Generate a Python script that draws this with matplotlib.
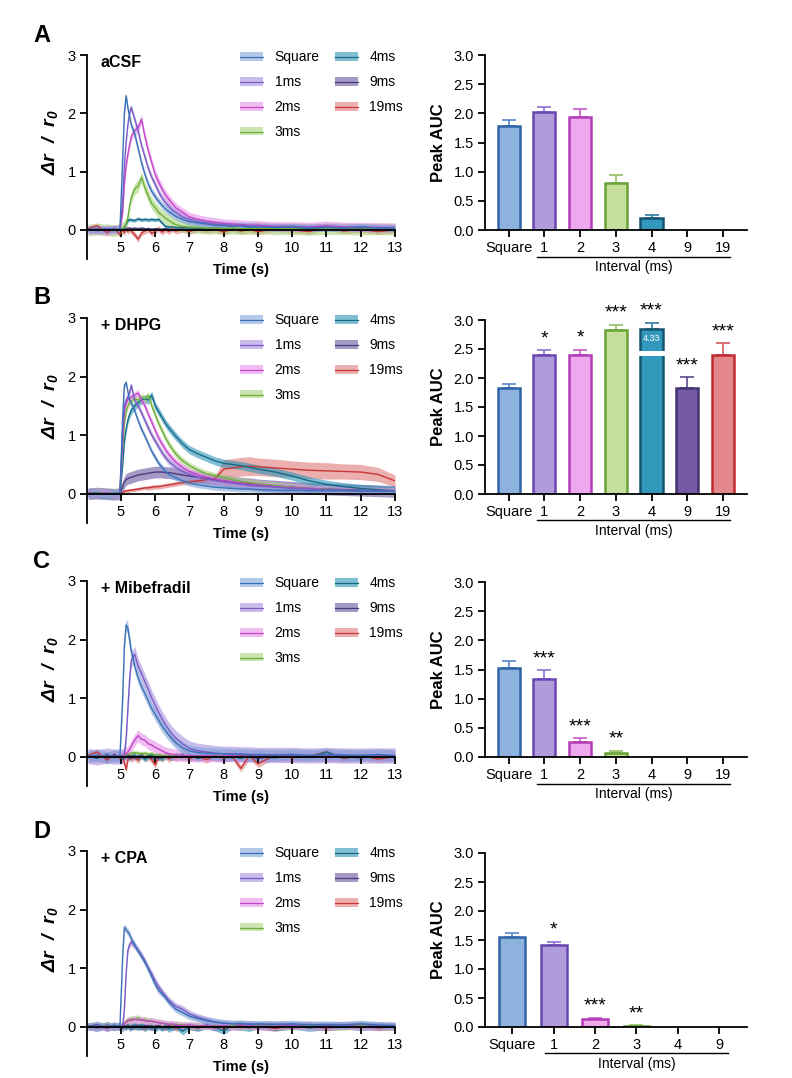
import numpy as np
import matplotlib
matplotlib.use("Agg")
import matplotlib.pyplot as plt
from matplotlib.patches import Patch
from matplotlib.lines import Line2D
from matplotlib.transforms import blended_transform_factory

plt.rcParams['font.family'] = ['Liberation Sans', 'DejaVu Sans']
plt.rcParams['mathtext.fontset'] = 'custom'
plt.rcParams['mathtext.rm'] = 'Liberation Sans:bold:italic'
plt.rcParams['mathtext.it'] = 'Liberation Sans:bold:italic'
plt.rcParams['mathtext.bf'] = 'Liberation Sans:bold:italic'

# ---------------- data ----------------
LABELS = ["Square", "1ms", "2ms", "3ms", "4ms", "9ms", "19ms"]
CONDITIONS = ["aCSF", "+ DHPG", "+ Mibefradil", "+ CPA"]
PANEL_LETTERS = ["A", "B", "C", "D"]

T = [4.04, 4.3, 4.6, 4.8, 4.97, 5.05, 5.1, 5.15, 5.2, 5.25, 5.3, 5.4, 5.5, 5.6,
     5.7, 5.8, 5.9, 6.0, 6.1, 6.2, 6.3, 6.4, 6.5, 6.6, 6.8, 7.0, 7.25, 7.5,
     7.75, 8.0, 8.25, 8.5, 8.75, 9.0, 9.5, 10.0, 10.5, 11.0, 11.5, 12.0, 12.5, 13.0]

A_traces = {
    "Square": [0.00, 0.02, -0.01, 0.02, 0.00, 1.20, 2.00, 2.30, 2.10, 1.95, 1.80, 1.65, 1.40, 1.15, 0.95, 0.78, 0.66, 0.57, 0.49, 0.42, 0.36, 0.31, 0.27, 0.23, 0.18, 0.14, 0.12, 0.10, 0.08, 0.07, 0.06, 0.07, 0.05, 0.05, 0.04, 0.05, 0.03, 0.04, 0.03, 0.05, 0.03, 0.03],
    "1ms": [0.01, -0.01, 0.02, 0.00, 0.01, 0.50, 1.10, 1.50, 1.80, 2.00, 2.10, 1.90, 1.70, 1.45, 1.25, 1.05, 0.90, 0.78, 0.65, 0.55, 0.47, 0.40, 0.34, 0.30, 0.22, 0.18, 0.14, 0.12, 0.10, 0.09, 0.08, 0.07, 0.07, 0.06, 0.05, 0.05, 0.04, 0.05, 0.04, 0.04, 0.04, 0.03],
    "2ms": [0.00, 0.01, -0.02, 0.01, 0.00, 0.30, 0.80, 1.10, 1.30, 1.45, 1.60, 1.70, 1.75, 1.90, 1.60, 1.35, 1.15, 0.95, 0.82, 0.70, 0.60, 0.52, 0.45, 0.38, 0.30, 0.22, 0.18, 0.15, 0.13, 0.11, 0.10, 0.09, 0.08, 0.08, 0.06, 0.06, 0.05, 0.07, 0.05, 0.05, 0.04, 0.04],
    "3ms": [0.00, 0.01, 0.00, -0.01, 0.00, 0.03, 0.06, 0.10, 0.20, 0.40, 0.55, 0.70, 0.75, 0.90, 0.72, 0.58, 0.45, 0.38, 0.30, 0.25, 0.20, 0.16, 0.12, 0.09, 0.06, 0.05, 0.04, 0.03, 0.03, 0.02, 0.03, 0.02, 0.02, 0.03, 0.02, 0.02, 0.01, 0.02, 0.02, 0.01, 0.02, 0.01],
    "4ms": [0.01, 0.00, 0.02, 0.00, 0.01, 0.02, 0.05, 0.10, 0.15, 0.18, 0.17, 0.16, 0.19, 0.17, 0.18, 0.17, 0.18, 0.17, 0.18, 0.12, 0.06, 0.05, 0.05, 0.04, 0.04, 0.03, 0.03, 0.02, 0.03, 0.02, 0.02, 0.02, 0.03, 0.02, 0.02, 0.01, 0.02, 0.02, 0.01, 0.02, 0.01, 0.01],
    "9ms": [0.00, -0.01, 0.01, 0.00, -0.01, 0.00, 0.01, 0.02, 0.03, 0.03, 0.02, 0.03, 0.02, 0.03, 0.02, 0.02, 0.01, 0.02, 0.01, 0.01, 0.02, 0.01, 0.00, 0.01, 0.01, 0.00, 0.01, 0.00, 0.01, 0.00, 0.01, 0.00, 0.01, 0.00, 0.01, 0.00, 0.01, 0.00, 0.01, 0.00, 0.01, 0.00],
    "19ms": [0.02, 0.07, -0.05, 0.03, -0.08, 0.00, -0.05, 0.02, -0.03, 0.01, -0.02, -0.08, -0.16, -0.05, -0.02, 0.01, -0.06, -0.02, 0.02, -0.04, 0.01, -0.03, 0.02, -0.02, 0.01, -0.03, 0.02, -0.01, 0.01, -0.04, 0.02, -0.02, 0.01, -0.03, 0.02, 0.00, -0.03, 0.06, -0.02, 0.01, -0.03, 0.00],
}
A_sem = {"Square": 0.06, "1ms": 0.06, "2ms": 0.08, "3ms": 0.10, "4ms": 0.03, "9ms": 0.02, "19ms": 0.05}

B_traces = {
    "Square": [0.00, 0.01, -0.01, 0.01, 0.00, 1.30, 1.85, 1.90, 1.75, 1.60, 1.55, 1.42, 1.25, 1.10, 0.98, 0.85, 0.72, 0.62, 0.52, 0.45, 0.38, 0.33, 0.30, 0.27, 0.22, 0.18, 0.15, 0.13, 0.11, 0.10, 0.09, 0.08, 0.08, 0.07, 0.06, 0.06, 0.05, 0.05, 0.05, 0.04, 0.04, 0.04],
    "1ms": [0.00, -0.01, 0.01, 0.00, 0.01, 1.10, 1.50, 1.60, 1.65, 1.72, 1.85, 1.60, 1.50, 1.38, 1.25, 1.12, 1.00, 0.90, 0.80, 0.70, 0.62, 0.55, 0.50, 0.45, 0.38, 0.33, 0.28, 0.25, 0.22, 0.20, 0.18, 0.16, 0.14, 0.13, 0.11, 0.09, 0.08, 0.07, 0.06, 0.05, 0.05, 0.04],
    "2ms": [0.01, 0.00, 0.01, -0.01, 0.00, 0.90, 1.40, 1.55, 1.60, 1.62, 1.65, 1.68, 1.72, 1.60, 1.50, 1.35, 1.22, 1.08, 0.95, 0.85, 0.75, 0.67, 0.60, 0.54, 0.45, 0.38, 0.32, 0.28, 0.25, 0.22, 0.20, 0.18, 0.16, 0.15, 0.12, 0.10, 0.09, 0.07, 0.06, 0.05, 0.05, 0.04],
    "3ms": [0.00, 0.01, 0.00, 0.01, 0.00, 0.80, 1.20, 1.40, 1.50, 1.55, 1.58, 1.62, 1.60, 1.65, 1.62, 1.68, 1.50, 1.35, 1.20, 1.08, 0.95, 0.85, 0.76, 0.68, 0.56, 0.48, 0.40, 0.34, 0.30, 0.27, 0.24, 0.21, 0.19, 0.17, 0.14, 0.11, 0.09, 0.08, 0.06, 0.05, 0.05, 0.04],
    "4ms": [0.01, 0.00, -0.01, 0.00, 0.00, 0.50, 0.90, 1.10, 1.25, 1.35, 1.42, 1.50, 1.55, 1.60, 1.62, 1.60, 1.68, 1.50, 1.40, 1.30, 1.20, 1.12, 1.05, 0.98, 0.85, 0.75, 0.68, 0.62, 0.56, 0.52, 0.50, 0.48, 0.45, 0.42, 0.37, 0.30, 0.22, 0.16, 0.12, 0.09, 0.07, 0.05],
    "9ms": [0.00, 0.01, 0.00, -0.01, 0.00, 0.12, 0.20, 0.24, 0.26, 0.27, 0.28, 0.30, 0.32, 0.33, 0.34, 0.35, 0.36, 0.37, 0.37, 0.37, 0.36, 0.36, 0.35, 0.34, 0.32, 0.30, 0.28, 0.26, 0.24, 0.22, 0.20, 0.18, 0.17, 0.15, 0.13, 0.11, 0.09, 0.08, 0.07, 0.06, 0.05, 0.04],
    "19ms": [0.00, 0.01, -0.01, 0.00, 0.00, 0.02, 0.04, 0.05, 0.05, 0.06, 0.06, 0.07, 0.08, 0.09, 0.10, 0.10, 0.11, 0.12, 0.12, 0.13, 0.14, 0.15, 0.16, 0.17, 0.19, 0.20, 0.22, 0.24, 0.26, 0.42, 0.44, 0.46, 0.47, 0.46, 0.44, 0.42, 0.40, 0.39, 0.38, 0.37, 0.33, 0.22],
}
B_sem = {"Square": 0.05, "1ms": 0.06, "2ms": 0.06, "3ms": 0.06, "4ms": 0.07, "9ms": 0.10,
         "19ms": [0.03, 0.03, 0.03, 0.03, 0.03, 0.03, 0.03, 0.03, 0.03, 0.03, 0.03, 0.03, 0.03, 0.03, 0.03, 0.04, 0.04, 0.04, 0.04, 0.04, 0.04, 0.04, 0.04, 0.04, 0.04, 0.04, 0.04, 0.04, 0.05, 0.16, 0.16, 0.16, 0.16, 0.15, 0.15, 0.14, 0.14, 0.14, 0.13, 0.13, 0.12, 0.10]}

C_traces = {
    "Square": [0.00, 0.03, -0.02, 0.02, 0.00, 1.00, 1.90, 2.25, 2.20, 2.00, 1.80, 1.55, 1.35, 1.20, 1.08, 0.95, 0.82, 0.72, 0.62, 0.52, 0.44, 0.37, 0.30, 0.24, 0.15, 0.10, 0.07, 0.06, 0.05, 0.05, 0.04, 0.05, 0.03, 0.04, 0.03, 0.04, 0.02, 0.04, 0.03, 0.02, 0.04, 0.02],
    "1ms": [0.01, -0.01, 0.02, 0.00, 0.01, 0.00, 0.05, 0.30, 0.80, 1.30, 1.65, 1.75, 1.55, 1.42, 1.28, 1.15, 1.00, 0.88, 0.76, 0.65, 0.55, 0.46, 0.38, 0.32, 0.22, 0.14, 0.10, 0.08, 0.06, 0.05, 0.05, 0.04, 0.04, 0.03, 0.03, 0.03, 0.02, 0.03, 0.02, 0.02, 0.02, 0.02],
    "2ms": [0.00, 0.01, -0.01, 0.01, 0.00, 0.00, 0.02, 0.05, 0.08, 0.12, 0.18, 0.28, 0.36, 0.30, 0.28, 0.22, 0.20, 0.16, 0.13, 0.10, 0.07, 0.05, 0.04, 0.03, 0.02, 0.02, 0.01, 0.02, 0.01, 0.01, 0.02, 0.01, 0.01, 0.02, 0.01, 0.01, 0.02, 0.01, 0.01, 0.02, 0.01, 0.01],
    "3ms": [0.00, 0.01, 0.00, -0.01, 0.00, 0.01, 0.02, 0.03, 0.04, 0.05, 0.06, 0.07, 0.06, 0.05, 0.06, 0.04, 0.05, 0.03, 0.03, 0.02, 0.02, 0.01, 0.01, 0.02, 0.01, 0.00, 0.01, 0.00, 0.01, 0.00, 0.01, 0.00, -0.01, 0.00, 0.01, 0.00, 0.01, 0.00, 0.01, 0.00, 0.00, 0.00],
    "4ms": [0.02, -0.03, 0.04, -0.02, 0.01, -0.04, 0.03, -0.01, 0.02, -0.03, 0.01, 0.03, -0.02, 0.02, -0.04, 0.01, 0.03, -0.02, 0.01, -0.03, 0.02, 0.00, -0.02, 0.03, -0.01, 0.02, -0.03, 0.01, 0.02, -0.02, 0.01, -0.03, 0.02, 0.00, -0.02, 0.03, -0.01, 0.08, -0.02, 0.01, -0.01, 0.00],
    "9ms": [-0.01, 0.02, -0.02, 0.03, 0.00, 0.02, -0.03, 0.01, 0.03, -0.01, 0.02, -0.02, 0.01, 0.03, -0.01, 0.02, -0.02, 0.01, -0.03, 0.02, 0.00, 0.02, -0.01, 0.01, 0.03, -0.02, 0.01, 0.02, -0.01, 0.01, -0.02, 0.02, 0.00, -0.03, 0.02, 0.01, -0.01, 0.02, 0.00, -0.02, 0.01, 0.00],
    "19ms": [0.02, 0.08, -0.06, 0.04, -0.03, 0.02, -0.10, -0.22, -0.05, 0.02, -0.04, 0.01, -0.06, 0.03, -0.02, 0.00, -0.05, -0.14, 0.01, -0.03, 0.02, -0.04, 0.01, -0.02, 0.02, -0.03, 0.01, -0.05, 0.02, -0.03, 0.01, -0.20, 0.02, -0.12, 0.03, -0.02, 0.01, 0.08, -0.03, 0.02, -0.04, 0.00],
}
C_sem = {"Square": 0.10, "1ms": 0.13, "2ms": 0.10, "3ms": 0.04, "4ms": 0.05, "9ms": 0.04, "19ms": 0.06}

D_traces = {
    "Square": [0.00, 0.04, -0.02, 0.03, 0.00, 1.20, 1.70, 1.65, 1.62, 1.58, 1.50, 1.40, 1.30, 1.20, 1.10, 0.98, 0.85, 0.72, 0.62, 0.56, 0.50, 0.42, 0.36, 0.30, 0.24, 0.18, 0.14, 0.10, 0.08, 0.06, 0.05, 0.06, 0.04, 0.05, 0.04, 0.05, 0.03, 0.04, 0.03, 0.05, 0.03, 0.02],
    "1ms": [0.01, -0.02, 0.02, 0.00, 0.01, 0.00, 0.30, 0.90, 1.30, 1.40, 1.45, 1.38, 1.30, 1.22, 1.12, 1.00, 0.90, 0.78, 0.68, 0.60, 0.52, 0.45, 0.40, 0.35, 0.30, 0.22, 0.16, 0.12, 0.08, 0.06, 0.05, 0.04, 0.05, 0.03, 0.04, 0.03, 0.04, 0.02, 0.03, 0.04, 0.02, 0.02],
    "2ms": [0.00, 0.02, -0.02, 0.01, 0.00, 0.02, 0.05, 0.08, 0.10, 0.12, 0.10, 0.13, 0.11, 0.12, 0.10, 0.09, 0.10, 0.08, 0.07, 0.06, 0.05, 0.04, 0.05, 0.03, 0.02, 0.03, 0.01, 0.02, 0.01, 0.02, 0.00, 0.01, 0.02, 0.00, 0.01, 0.02, 0.00, 0.01, 0.02, 0.00, 0.01, 0.00],
    "3ms": [0.00, 0.01, 0.02, -0.01, 0.01, 0.03, 0.06, 0.08, 0.12, 0.10, 0.14, 0.12, 0.15, 0.11, 0.12, 0.10, 0.09, 0.08, 0.07, 0.06, 0.05, 0.04, 0.03, 0.04, 0.03, 0.02, 0.02, 0.01, 0.02, 0.01, 0.02, 0.00, 0.01, 0.02, 0.01, 0.00, 0.02, 0.01, 0.00, 0.02, 0.01, 0.00],
    "4ms": [0.01, -0.02, 0.03, -0.01, 0.02, -0.03, 0.02, 0.00, 0.03, -0.02, 0.01, 0.02, -0.01, 0.03, -0.02, 0.01, 0.02, -0.03, 0.01, -0.02, 0.02, -0.04, 0.00, 0.02, -0.08, 0.01, -0.02, 0.03, -0.01, -0.07, 0.02, 0.00, -0.02, 0.03, -0.01, 0.02, -0.02, 0.01, 0.03, -0.01, 0.02, 0.00],
    "9ms": [0.00, 0.02, -0.01, 0.02, -0.02, 0.01, 0.03, -0.01, 0.02, 0.00, -0.02, 0.02, 0.01, -0.01, 0.02, 0.00, -0.02, 0.01, 0.02, -0.01, 0.00, 0.02, -0.02, 0.01, 0.00, 0.02, -0.01, 0.01, -0.02, 0.02, 0.00, -0.01, 0.02, 0.00, -0.01, 0.01, 0.02, -0.01, 0.00, 0.01, -0.01, 0.00],
    "19ms": [0.01, 0.03, -0.03, 0.02, -0.01, 0.02, -0.02, 0.01, 0.03, -0.02, 0.01, -0.01, 0.02, 0.00, -0.03, 0.02, 0.01, -0.02, 0.02, 0.00, -0.02, 0.01, 0.02, -0.03, 0.01, 0.00, -0.02, 0.02, 0.01, -0.02, 0.00, 0.02, -0.01, 0.01, -0.03, 0.02, 0.00, -0.02, 0.01, 0.02, -0.02, 0.00],
}
D_sem = {"Square": 0.06, "1ms": 0.06, "2ms": 0.06, "3ms": 0.06, "4ms": 0.06, "9ms": 0.05, "19ms": 0.05}

BAR_CATS_7 = ["Square", "1", "2", "3", "4", "9", "19"]
BAR_CATS_6 = ["Square", "1", "2", "3", "4", "9"]

A_auc = [1.78, 2.02, 1.93, 0.81, 0.20, 0.0, 0.0]
A_err = [0.10, 0.09, 0.14, 0.14, 0.05, 0.0, 0.0]
A_sig = ["", "", "", "", "", "", ""]

B_auc = [1.83, 2.39, 2.40, 2.82, 4.33, 1.83, 2.39]
B_err = [0.07, 0.09, 0.09, 0.10, 0.10, 0.18, 0.21]
B_sig = ["", "*", "*", "***", "***", "***", "***"]

C_auc = [1.52, 1.33, 0.25, 0.075, 0.0, 0.0, 0.0]
C_err = [0.12, 0.16, 0.07, 0.03, 0.0, 0.0, 0.0]
C_sig = ["", "***", "***", "**", "", "", ""]

D_auc = [1.55, 1.41, 0.13, 0.02, 0.0, 0.0]
D_err = [0.07, 0.06, 0.03, 0.015, 0.0, 0.0]
D_sig = ["", "*", "***", "**", "", ""]

BROKEN_BAR_TOP = 2.85      # displayed height of the off-scale bar (panel B, 4 ms)

# ---------------- styles ----------------
LINE_COL = ["#3B6FB6", "#7A5CC6", "#C245C6", "#6EAE3C", "#176A88", "#4A3A7E", "#C83737"]
BAND_COL = ["#7FA6DA", "#A890DC", "#E890EA", "#A8D57A", "#2B94B8", "#6A559F", "#E07A7A"]
BAR_FILL = ["#8EB2DE", "#B09CDA", "#EEA9EE", "#C5E09B", "#3399BC", "#735AA3", "#E4878A"]
BAR_EDGE = ["#2F64A6", "#6A47B0", "#B23DB6", "#68A337", "#14566F", "#463470", "#BE2A2E"]
ERR_COL = ["#5886C8", "#8C70D2", "#C65ACB", "#8DC062", "#2A7C9C", "#5A4890", "#D05A5E"]

W, H = 792, 1078
fig = plt.figure(figsize=(W / 100, H / 100), dpi=100)


def rect(l, t, r, b):
    return [l / W, 1 - b / H, (r - l) / W, (b - t) / H]


LEFT_RECTS = [(86.7, 55, 395, 259), (86.7, 318, 395, 523), (86.7, 581, 395, 786), (86.7, 851, 395, 1056)]
RIGHT_RECTS = [(485, 55, 747, 230), (485, 320, 747, 494), (485, 582, 747, 757), (485, 853, 747, 1027)]

TRACES = [A_traces, B_traces, C_traces, D_traces]
SEMS = [A_sem, B_sem, C_sem, D_sem]
AUCS = [(BAR_CATS_7, A_auc, A_err, A_sig), (BAR_CATS_7, B_auc, B_err, B_sig),
        (BAR_CATS_7, C_auc, C_err, C_sig), (BAR_CATS_6, D_auc, D_err, D_sig)]

t = np.array(T)

for p in range(4):
    # ---------- trace panel ----------
    ax = fig.add_axes(rect(*LEFT_RECTS[p]))
    data, sem = TRACES[p], SEMS[p]
    for i in reversed(range(len(LABELS))):
        lab = LABELS[i]
        y = np.array(data[lab])
        s = np.array(sem[lab]) if np.ndim(sem[lab]) else sem[lab]
        ax.fill_between(t, y - s, y + s, color=BAND_COL[i], alpha=0.6, lw=0)
        ax.plot(t, y, color=LINE_COL[i], lw=1.0)
    ax.set_xlim(4.0, 13.0)
    ax.set_ylim(-0.5, 3.0)
    ax.spines['top'].set_visible(False)
    ax.spines['right'].set_visible(False)
    ax.spines['bottom'].set_position(('data', 0))
    for sp in ('left', 'bottom'):
        ax.spines[sp].set_linewidth(1.3)
    ax.set_xticks(range(5, 14))
    ax.set_yticks([0, 1, 2, 3])
    ax.tick_params(axis='both', direction='out', length=5, width=1.3, labelsize=10.5, pad=3)
    ax.set_xlabel("Time (s)", fontsize=10.5, fontweight='bold', labelpad=6)
    ax.set_ylabel("Δr  /  r$_0$", fontsize=14, fontweight='bold', fontstyle='italic', labelpad=5)
    ax.yaxis.label.set_y(0.571)
    ax.text(0.045, 0.965, CONDITIONS[p], transform=ax.transAxes, fontsize=11.5,
            fontweight='bold', va='center', ha='left')
    handles = [(Patch(facecolor=BAND_COL[i], alpha=0.6, lw=0), Line2D([], [], color=LINE_COL[i], lw=0.9))
               for i in range(len(LABELS))]
    ax.legend(handles, LABELS, ncol=2, loc='upper left', bbox_to_anchor=(0.497, 1.023),
              frameon=False, fontsize=10, handlelength=1.65, handleheight=0.55,
              handletextpad=0.85, labelspacing=0.79, columnspacing=1.08,
              borderaxespad=0, borderpad=0)
    l, tp = LEFT_RECTS[p][0], LEFT_RECTS[p][1]
    fig.text(42 / W, 1 - (tp - 20) / H, PANEL_LETTERS[p], fontsize=17, fontweight='bold',
             ha='center', va='center')

    # ---------- bar panel ----------
    cats, auc, err, sig = AUCS[p]
    n = len(cats)
    bx = fig.add_axes(rect(*RIGHT_RECTS[p]))
    x = np.arange(n)
    for i in range(n):
        if auc[i] <= 0:
            continue
        shown = min(auc[i], BROKEN_BAR_TOP)
        bx.bar(x[i], shown, width=0.62, color=BAR_FILL[i], edgecolor=BAR_EDGE[i], lw=1.8, zorder=2)
        bx.errorbar(x[i], shown, yerr=[[0], [err[i]]], color=ERR_COL[i], capsize=5,
                    elinewidth=1.2, capthick=1.2, zorder=1)
        if auc[i] > 3.0:
            bx.bar(x[i], 0.075, bottom=2.385, width=0.75, color='white', lw=0, zorder=3)
            bx.text(x[i], 2.68, f"{auc[i]:.2f}", color='white', fontsize=6.5,
                    ha='center', va='center', zorder=4)
        if sig[i]:
            bx.text(x[i], shown + err[i] + 0.12, sig[i], ha='center', va='baseline',
                    fontsize=14)
    bx.set_xlim(-0.66, n - 0.33)
    bx.set_ylim(0, 3.0)
    bx.spines['top'].set_visible(False)
    bx.spines['right'].set_visible(False)
    for sp in ('left', 'bottom'):
        bx.spines[sp].set_linewidth(1.3)
    bx.set_xticks(x)
    bx.set_xticklabels(cats)
    bx.set_yticks(np.arange(0, 3.01, 0.5))
    bx.set_yticklabels([f"{v:.1f}" for v in np.arange(0, 3.01, 0.5)])
    bx.tick_params(axis='both', direction='out', length=5, width=1.3, labelsize=10.5, pad=3)
    bx.set_ylabel("Peak AUC", fontsize=12, fontweight='bold', labelpad=5)
    trans = blended_transform_factory(bx.transData, bx.transAxes)
    bx.plot([0.8, n - 1 + 0.2], [-0.152, -0.152], transform=trans, color='black', lw=1.0,
            clip_on=False)
    bx.text((1 + n - 1) / 2, -0.21, "Interval (ms)", transform=trans, ha='center', va='center',
            fontsize=10)

fig.savefig("out.png", dpi=100)
